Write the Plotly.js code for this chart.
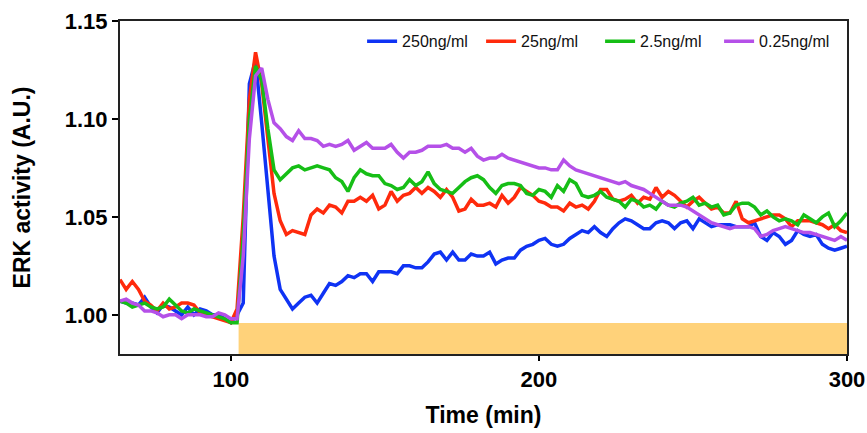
<!DOCTYPE html>
<html>
<head>
<meta charset="utf-8">
<script src="https://cdn.plot.ly/plotly-3.0.1.min.js"></script>
<style>html,body{margin:0;padding:0;background:#fff;}#chart{width:867px;height:433px;}</style>
</head>
<body>
<div id="chart"></div>
<script>
const timeMin = [64,66,68,70,72,74,76,78,80,82,84,86,88,90,92,94,96,98,100,102,104,106,108,110,112,114,116,118,120,122,124,126,128,130,132,134,136,138,140,142,144,146,148,150,152,154,156,158,160,162,164,166,168,170,172,174,176,178,180,182,184,186,188,190,192,194,196,198,200,202,204,206,208,210,212,214,216,218,220,222,224,226,228,230,232,234,236,238,240,242,244,246,248,250,252,254,256,258,260,262,264,266,268,270,272,274,276,278,280,282,284,286,288,290,292,294,296,298,300];

const erk250 = [1.007,1.006,1.006,1.005,1.009,1.004,1.001,1.005,1.004,1.002,1.000,1.004,1.000,1.003,1.002,1.000,1.000,0.998,0.996,1.000,1.006,1.118,1.130,1.098,1.062,1.030,1.013,1.008,1.003,1.006,1.009,1.010,1.006,1.011,1.016,1.015,1.017,1.020,1.019,1.021,1.021,1.017,1.022,1.022,1.022,1.021,1.025,1.025,1.024,1.024,1.027,1.031,1.032,1.028,1.032,1.028,1.028,1.031,1.030,1.030,1.032,1.026,1.028,1.029,1.029,1.033,1.035,1.036,1.038,1.039,1.036,1.035,1.036,1.039,1.041,1.043,1.042,1.045,1.042,1.040,1.044,1.047,1.049,1.048,1.046,1.044,1.044,1.047,1.048,1.047,1.044,1.047,1.048,1.044,1.049,1.047,1.045,1.046,1.046,1.046,1.045,1.045,1.045,1.047,1.040,1.038,1.042,1.040,1.036,1.038,1.043,1.041,1.040,1.041,1.036,1.034,1.033,1.034,1.035];

const erk25 = [1.018,1.013,1.017,1.013,1.007,1.005,1.002,1.006,1.003,1.004,1.006,1.006,1.005,1.001,1.000,0.999,0.998,0.997,0.996,1.003,1.050,1.110,1.134,1.118,1.088,1.062,1.048,1.041,1.043,1.042,1.041,1.051,1.054,1.052,1.056,1.055,1.052,1.058,1.058,1.060,1.058,1.061,1.054,1.056,1.063,1.058,1.061,1.062,1.065,1.062,1.065,1.063,1.060,1.064,1.060,1.053,1.054,1.059,1.056,1.056,1.057,1.055,1.061,1.057,1.060,1.065,1.063,1.061,1.058,1.057,1.055,1.055,1.053,1.057,1.055,1.056,1.054,1.058,1.064,1.064,1.059,1.058,1.059,1.061,1.057,1.060,1.059,1.065,1.060,1.063,1.061,1.058,1.055,1.058,1.060,1.057,1.054,1.055,1.052,1.052,1.058,1.049,1.047,1.048,1.049,1.050,1.051,1.051,1.049,1.045,1.048,1.048,1.048,1.047,1.046,1.044,1.046,1.043,1.042];

const erk2p5 = [1.007,1.006,1.004,1.005,1.006,1.004,1.003,1.004,1.008,1.005,1.002,1.001,1.003,1.002,1.001,1.000,0.999,0.998,0.996,0.996,1.040,1.100,1.127,1.120,1.095,1.074,1.069,1.072,1.075,1.076,1.074,1.075,1.076,1.075,1.074,1.070,1.068,1.063,1.070,1.074,1.072,1.071,1.071,1.067,1.066,1.064,1.065,1.069,1.066,1.068,1.073,1.067,1.064,1.063,1.062,1.065,1.068,1.070,1.071,1.069,1.065,1.062,1.066,1.067,1.067,1.066,1.062,1.061,1.064,1.063,1.060,1.066,1.063,1.069,1.067,1.061,1.060,1.061,1.063,1.060,1.059,1.058,1.055,1.059,1.058,1.055,1.056,1.054,1.058,1.056,1.055,1.057,1.058,1.060,1.056,1.057,1.055,1.056,1.051,1.052,1.056,1.057,1.057,1.055,1.051,1.053,1.050,1.048,1.049,1.048,1.046,1.051,1.049,1.047,1.050,1.052,1.045,1.048,1.052];

const erk0p25 = [1.007,1.008,1.006,1.005,1.002,1.002,1.001,0.999,1.000,1.000,0.998,1.000,1.000,1.000,0.999,0.999,1.001,1.000,0.998,0.998,1.030,1.090,1.122,1.126,1.110,1.098,1.095,1.091,1.089,1.094,1.090,1.090,1.089,1.086,1.087,1.086,1.087,1.089,1.084,1.086,1.088,1.085,1.085,1.085,1.087,1.083,1.080,1.083,1.083,1.084,1.086,1.086,1.086,1.087,1.085,1.085,1.083,1.085,1.081,1.079,1.080,1.080,1.082,1.080,1.079,1.078,1.077,1.076,1.075,1.075,1.074,1.074,1.079,1.076,1.074,1.073,1.072,1.071,1.070,1.069,1.068,1.067,1.068,1.066,1.065,1.064,1.062,1.060,1.058,1.056,1.056,1.056,1.055,1.053,1.051,1.049,1.047,1.046,1.045,1.044,1.045,1.045,1.045,1.044,1.040,1.041,1.043,1.044,1.045,1.044,1.043,1.042,1.042,1.041,1.040,1.039,1.038,1.040,1.038];

const seriesNames = ['250ng/ml','25ng/ml','2.5ng/ml','0.25ng/ml'];
const seriesValues = [erk250, erk25, erk2p5, erk0p25];
const seriesColors = ['#0F33F4','#FF2A0C','#16BE16','#B550E8'];

const stimStart = 102.5;
const stimEnd = 300;
const stimTop = 0.9958;

const xTicks = [100,200,300];
const yTicks = [1.00,1.05,1.10,1.15];
const yTickText = ['1.00','1.05','1.10','1.15'];

const FONT = 'Liberation Sans, Arial, Helvetica, sans-serif';

const traces = seriesNames.map((n,i)=>({
  type:'scatter', mode:'lines', name:n, x:timeMin, y:seriesValues[i],
  line:{color:seriesColors[i], width:3.5}, hoverinfo:'x+y'
}));

const layout = {
  width:867, height:433,
  margin:{l:120, r:20, t:21, b:79},
  paper_bgcolor:'#fff', plot_bgcolor:'#fff',
  font:{family:FONT, color:'#000'},
  showlegend:true,
  legend:{orientation:'h', x:0.333, y:0.99, xanchor:'left', yanchor:'top',
    entrywidth:74, entrywidthmode:'pixels',
    font:{family:FONT, size:16, color:'#111'}, bgcolor:'rgba(0,0,0,0)', itemwidth:30, tracegroupgap:0},
  xaxis:{range:[64,300], tickvals:xTicks, ticktext:xTicks.map(String), ticks:'outside', ticklen:5, tickwidth:2,
    tickcolor:'#000', showline:true, linecolor:'#222', linewidth:2, mirror:true, showgrid:false, zeroline:false,
    tickfont:{family:FONT, size:22, weight:700, color:'#000'},
    title:{text:'Time (min)', font:{family:FONT, size:23, weight:700, color:'#000'}, standoff:15}},
  yaxis:{range:[0.98,1.15], tickvals:yTicks, ticktext:yTickText, ticks:'outside', ticklen:6, tickwidth:2,
    tickcolor:'#000', showline:true, linecolor:'#222', linewidth:2, mirror:true, showgrid:false, zeroline:false,
    tickfont:{family:FONT, size:22, weight:700, color:'#000'},
    title:{text:'ERK activity (A.U.)', font:{family:FONT, size:23, weight:700, color:'#000'}, standoff:28}},
  shapes:[{type:'rect', xref:'x', yref:'y', x0:stimStart, x1:stimEnd, y0:0.98, y1:stimTop,
    fillcolor:'#FFD27A', line:{width:0}, layer:'below'}]
};

Plotly.newPlot('chart', traces, layout, {displayModeBar:false, staticPlot:true});
</script>
</body>
</html>
